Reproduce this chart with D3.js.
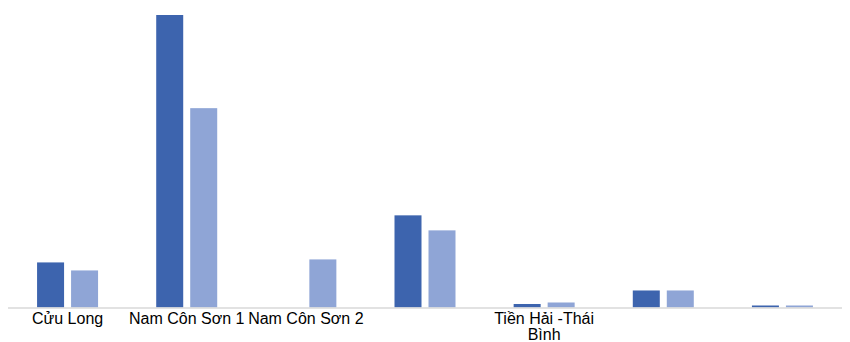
<!DOCTYPE html>
<html lang="vi">
<head>
  <meta charset="UTF-8">
  <title>Bể trầm tích</title>
  <script src="https://d3js.org/d3.v7.min.js"></script>
  <style>
    body { margin: 0; background: #fff; }
    .tick-label { font-family: "Liberation Sans", Arial, sans-serif; font-size: 16px; fill: #000; }
  </style>
</head>
<body>
  <div id="chart"></div>
  <script>
    // ---- data ----
    const categories = ["Cửu Long", "Nam Côn Sơn 1", "Nam Côn Sơn 2", "", "Tiền Hải -Thái Bình", "", ""];
    const seriesNames = ["S1", "S2"];
    const series1 = [45, 292, 0, 92, 3.5, 17, 2];
    const series2 = [37, 199, 48, 77, 5, 17, 2];
    const colors = ["#3d64ae", "#8fa5d6"];

    // ---- setup ----
    const W = 850, H = 342;
    const baseY = 307.5;
    const svg = d3.select("#chart").append("svg")
      .attr("width", W).attr("height", H);

    const x0 = d3.scaleBand().domain(d3.range(categories.length))
      .range([8, 842]).paddingInner(0.488).paddingOuter(0.244);
    const x1 = d3.scaleBand().domain(seriesNames)
      .range([0, x0.bandwidth()]).paddingInner(7 / 34);
    const y = d3.scaleLinear().domain([0, 292]).range([baseY, 15]);

    const rows = categories.map((c, i) => ({ i, vals: [series1[i], series2[i]] }));

    const groups = svg.selectAll(".grp").data(rows).enter().append("g")
      .attr("transform", d => `translate(${x0(d.i)},0)`);

    groups.selectAll("rect")
      .data(d => d.vals.map((v, k) => ({ k, v })))
      .enter().append("rect")
      .attr("x", d => x1(seriesNames[d.k]))
      .attr("width", x1.bandwidth())
      .attr("y", d => y(d.v))
      .attr("height", d => baseY - y(d.v))
      .attr("fill", d => colors[d.k]);

    // axis line
    svg.append("line")
      .attr("x1", 8).attr("x2", 842)
      .attr("y1", baseY + 0.5).attr("y2", baseY + 0.5)
      .attr("stroke", "#d9d9d9").attr("stroke-width", 1.5);

    // category labels, wrapped to the band step
    const step = x0.step();
    categories.forEach((c, i) => {
      if (!c) return;
      const cx = x0(i) + x0.bandwidth() / 2;
      const t = svg.append("text").attr("class", "tick-label")
        .attr("text-anchor", "middle").attr("x", cx).attr("y", 324);
      const words = c.split(" ");
      let line = [];
      let ts = t.append("tspan").attr("x", cx).attr("dy", 0);
      words.forEach(w => {
        line.push(w);
        ts.text(line.join(" "));
        if (ts.node().getComputedTextLength() > step && line.length > 1) {
          line.pop();
          ts.text(line.join(" "));
          line = [w];
          ts = t.append("tspan").attr("x", cx).attr("dy", "0.98em").text(w);
        }
      });
    });
  </script>
</body>
</html>
